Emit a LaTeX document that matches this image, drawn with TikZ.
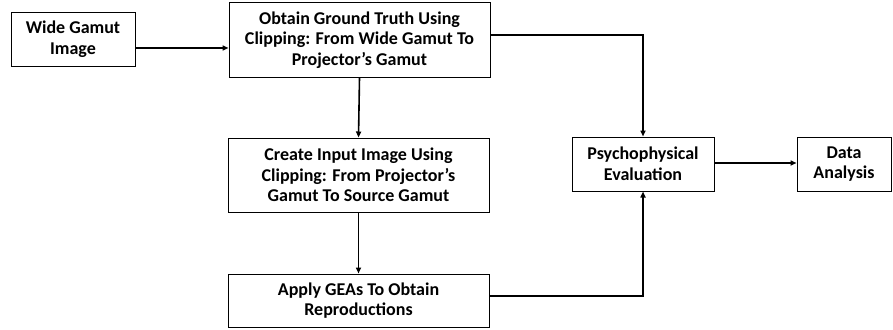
\documentclass[tikz,border=0pt]{standalone}
\usepackage{fontspec}
\setmainfont{Carlito}
\usetikzlibrary{arrows.meta,calc}
\begin{document}
\begin{tikzpicture}[x=1pt,y=-1pt,
  box/.style={draw=black,line width=1pt,rectangle,inner sep=0pt,align=center,
    font=\fontsize{18}{20.7}\selectfont\bfseries},
  flow/.style={line width=1.6pt,-{Triangle[length=6pt,width=5pt]}}]
\useasboundingbox[fill=white] (0,0) rectangle (893,329);
\node[box,minimum width=124pt,minimum height=53pt] (wide) at (73,39.5) {Wide Gamut\\Image};
\node[box,minimum width=261pt,minimum height=74pt] (truth) at (359.5,40) {Obtain Ground Truth Using\\Clipping: From Wide Gamut To\\Projector’s Gamut};
\node[box,minimum width=261pt,minimum height=74pt] (input) at (358.5,175) {Create Input Image Using\\Clipping: From Projector’s\\Gamut To Source Gamut};
\node[box,minimum width=261pt,minimum height=53pt] (gea) at (358.5,300.5) {Apply GEAs To Obtain\\Reproductions};
\node[box,minimum width=142pt,minimum height=54pt] (psy) at (643,164) {Psychophysical\\Evaluation};
\node[box,minimum width=94pt,minimum height=54pt] (data) at (844,164) {Data\\Analysis};
\draw[flow] (wide.east |- 0,48) -- (truth.west |- 0,48);
\draw[flow] (truth.south) -- (input.north);
\draw[flow] (input.south) -- (gea.north);
\draw[flow] (truth.east |- 0,35) -| (psy.north);
\draw[flow] (gea.east |- 0,296) -| (psy.south);
\draw[flow] (psy.east |- 0,163) -- (data.west |- 0,163);
\end{tikzpicture}
\end{document}
